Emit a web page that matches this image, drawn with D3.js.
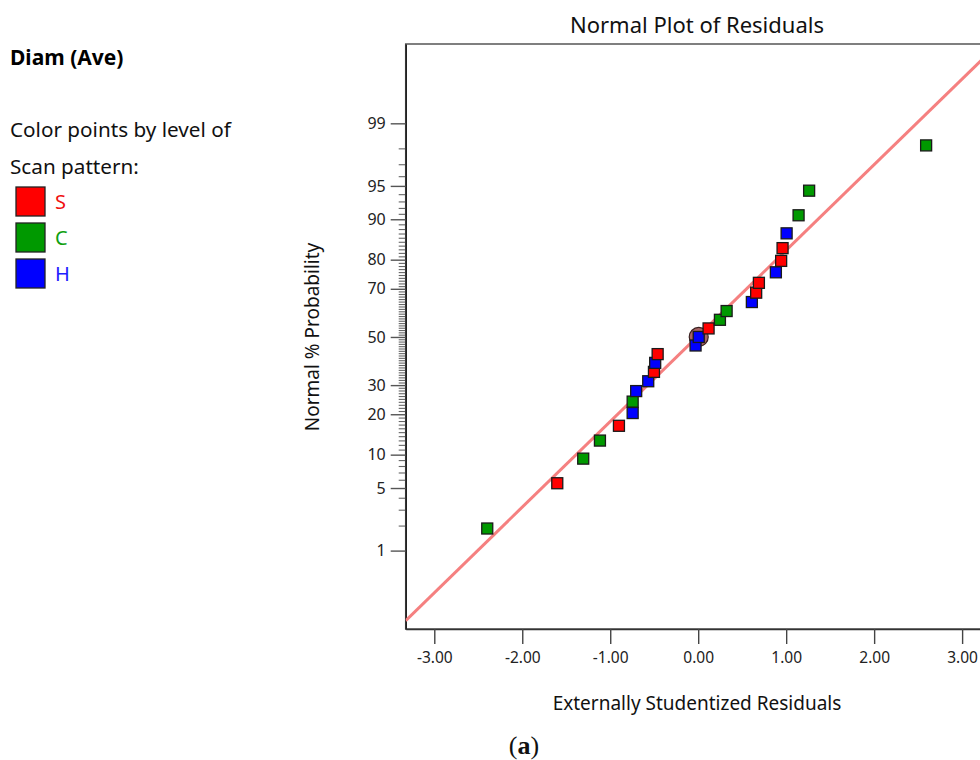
<!DOCTYPE html>
<html>
<head>
<meta charset="utf-8">
<script src="https://cdn.jsdelivr.net/npm/d3@7"></script>
<style>
  html, body { margin: 0; padding: 0; background: #fff; }
  svg { display: block; font-family: "Noto Sans", "Open Sans", sans-serif; }
</style>
</head>
<body>
<svg id="chart" width="980" height="760"></svg>
<script>
// Externally studentized residuals, sorted ascending
const residuals = [
  -2.398, -1.602, -1.307, -1.117, -0.901, -0.745, -0.745, -0.705, -0.568,
  -0.503, -0.489, -0.461, -0.030, 0.006, 0.118, 0.247, 0.323, 0.610,
  0.659, 0.690, 0.883, 0.943, 0.959, 1.005, 1.141, 1.261, 2.591
];
// Normal % probability of each residual
const probabilities = [
  1.85, 5.56, 9.26, 12.96, 16.67, 20.37, 24.07, 27.78, 31.48,
  35.19, 38.89, 42.59, 46.30, 50.00, 53.70, 57.41, 61.11, 64.81,
  68.52, 72.22, 75.93, 79.63, 83.33, 87.04, 90.74, 94.44, 98.15
];
// Scan pattern level of each run
const patterns = [
  "C", "S", "C", "C", "S", "H", "C", "H", "H",
  "S", "H", "S", "H", "H", "S", "C", "C", "H",
  "S", "S", "H", "S", "S", "H", "C", "C", "C"
];
// Highlighted run
const highlightIndex = [13];

const levels = ["S", "C", "H"];
const levelColors = ["#ff0000", "#009900", "#0000ff"];
const levelTextColors = ["#f01010", "#10a010", "#2020ff"];

const xTicks = [-3, -2, -1, 0, 1, 2, 3];
const yMajorTicks = [1, 5, 10, 20, 30, 50, 70, 80, 90, 95, 99];
const yMinorTicks = d3.range(1, 100).filter(p => !yMajorTicks.includes(p));

// Reference normal line: z = (residual - mean) / sd
const lineMean = [-0.013];
const lineSd = [1.0725];

// Inverse standard normal CDF (Acklam's rational approximation)
function probit(p) {
  const a = [-3.969683028665376e+01, 2.209460984245205e+02, -2.759285104469687e+02,
             1.383577518672690e+02, -3.066479806614716e+01, 2.506628277459239e+00];
  const b = [-5.447609879822406e+01, 1.615858368580409e+02, -1.556989798598866e+02,
             6.680131188771972e+01, -1.328068155288572e+01];
  const c = [-7.784894002430293e-03, -3.223964580411365e-01, -2.400758277161838e+00,
             -2.549732539343734e+00, 4.374664141464968e+00, 2.938163982698783e+00];
  const d = [7.784695709041462e-03, 3.224671290700398e-01, 2.445134137142996e+00,
             3.754408661907416e+00];
  const pl = 0.02425, ph = 1 - pl;
  let q, r;
  if (p < pl) {
    q = Math.sqrt(-2 * Math.log(p));
    return (((((c[0]*q+c[1])*q+c[2])*q+c[3])*q+c[4])*q+c[5]) /
           ((((d[0]*q+d[1])*q+d[2])*q+d[3])*q+1);
  } else if (p <= ph) {
    q = p - 0.5; r = q * q;
    return (((((a[0]*r+a[1])*r+a[2])*r+a[3])*r+a[4])*r+a[5])*q /
           (((((b[0]*r+b[1])*r+b[2])*r+b[3])*r+b[4])*r+1);
  } else {
    q = Math.sqrt(-2 * Math.log(1 - p));
    return -(((((c[0]*q+c[1])*q+c[2])*q+c[3])*q+c[4])*q+c[5]) /
            ((((d[0]*q+d[1])*q+d[2])*q+d[3])*q+1);
  }
}

const svg = d3.select("#chart");
const plot = { left: 405.7, top: 44, size: 585 };

const x = d3.scaleLinear().domain([-3.325, 3.325]).range([plot.left, plot.left + plot.size]);
const y = d3.scaleLinear().domain([-3.18, 3.19]).range([plot.top + plot.size, plot.top]);
const colorOf = d3.scaleOrdinal().domain(levels).range(levelColors);

// Plot frame
svg.append("rect")
  .attr("x", plot.left).attr("y", plot.top)
  .attr("width", plot.size).attr("height", plot.size)
  .attr("fill", "none").attr("stroke", "#555").attr("stroke-width", 1.5);

// Y axis: probability scale (minor then major ticks)
const yMinor = svg.append("g").attr("transform", `translate(${plot.left},0)`)
  .call(d3.axisLeft(y)
    .tickValues(yMinorTicks.map(p => probit(p / 100)))
    .tickSize(7).tickSizeOuter(0).tickFormat(""));
yMinor.select(".domain").remove();
yMinor.selectAll("line").attr("stroke", "#666").attr("stroke-width", 1.1);

const yMajor = svg.append("g").attr("transform", `translate(${plot.left},0)`)
  .call(d3.axisLeft(y)
    .tickValues(yMajorTicks.map(p => probit(p / 100)))
    .tickSize(15).tickSizeOuter(0).tickPadding(5)
    .tickFormat((v, i) => yMajorTicks[i]));
yMajor.select(".domain").attr("stroke", "#222").attr("stroke-width", 1.6);
yMajor.selectAll("line").attr("stroke", "#555").attr("stroke-width", 1.4);
yMajor.attr("font-size", 16).attr("font-family", "Noto Sans, sans-serif");
yMajor.selectAll("text").attr("fill", "#222");

// X axis
const fmt = d3.format(".2f");
const xAxis = svg.append("g").attr("transform", `translate(0,${plot.top + plot.size})`)
  .call(d3.axisBottom(x).tickValues(xTicks).tickSize(15).tickSizeOuter(0).tickPadding(8)
    .tickFormat(v => fmt(v).replace("\u2212", "-")));
xAxis.select(".domain").attr("stroke", "#333").attr("stroke-width", 1.6);
xAxis.selectAll("line").attr("stroke", "#444").attr("stroke-width", 1.4);
xAxis.attr("font-size", 15.5).attr("font-family", "Noto Sans, sans-serif");
xAxis.selectAll("text").attr("fill", "#222");

// Reference line
svg.append("clipPath").attr("id", "plot-clip")
  .append("rect").attr("x", plot.left).attr("y", plot.top)
  .attr("width", plot.size).attr("height", plot.size);

const lineXs = x.domain();
svg.append("path")
  .attr("clip-path", "url(#plot-clip)")
  .datum(lineXs)
  .attr("d", d3.line().x(v => x(v)).y(v => y((v - lineMean[0]) / lineSd[0])))
  .attr("fill", "none").attr("stroke", "#f58080").attr("stroke-width", 3);

// Points
const points = residuals.map((r, i) => ({ r, p: probabilities[i], level: patterns[i] }));

highlightIndex.forEach(i => {
  const d = points[i];
  svg.append("circle")
    .attr("cx", x(d.r)).attr("cy", y(probit(d.p / 100)))
    .attr("r", 9.5)
    .attr("fill", "#a86464").attr("stroke", "#3a2020").attr("stroke-width", 1.2);
});

const sq = 11;
svg.append("g").selectAll("rect").data(points).join("rect")
  .attr("x", d => x(d.r) - sq / 2)
  .attr("y", d => y(probit(d.p / 100)) - sq / 2)
  .attr("width", sq).attr("height", sq)
  .attr("fill", d => colorOf(d.level))
  .attr("stroke", "#1a1a1a").attr("stroke-width", 1.3);

// Titles
svg.append("text").attr("x", 697).attr("y", 33).attr("text-anchor", "middle")
  .attr("font-size", 22).attr("fill", "#111").text("Normal Plot of Residuals");
svg.append("text").attr("x", 697).attr("y", 710).attr("text-anchor", "middle")
  .attr("font-size", 19).attr("fill", "#111").text("Externally Studentized Residuals");
svg.append("text").attr("transform", "translate(319,337) rotate(-90)")
  .attr("text-anchor", "middle").attr("font-size", 19).attr("fill", "#111")
  .text("Normal % Probability");

// Panel label
const panel = svg.append("text").attr("x", 524).attr("y", 754).attr("text-anchor", "middle")
  .attr("font-family", "Liberation Serif, serif").attr("font-size", 26).attr("fill", "#111");
panel.append("tspan").text("(");
panel.append("tspan").attr("font-weight", "bold").text("a");
panel.append("tspan").text(")");

// Legend
svg.append("text").attr("x", 10).attr("y", 65).attr("font-size", 21)
  .attr("font-weight", "bold").attr("fill", "#000").text("Diam (Ave)");
svg.append("text").attr("x", 10).attr("y", 137).attr("font-size", 20.7)
  .attr("fill", "#111").text("Color points by level of");
svg.append("text").attr("x", 10).attr("y", 174).attr("font-size", 20.7)
  .attr("fill", "#111").text("Scan pattern:");

const legend = svg.append("g").selectAll("g").data(levels).join("g")
  .attr("transform", (d, i) => `translate(16,${187 + i * 36})`);
legend.append("rect").attr("width", 29).attr("height", 29)
  .attr("fill", d => colorOf(d)).attr("stroke", "#222").attr("stroke-width", 1.3);
legend.append("text").attr("x", 39).attr("y", 22).attr("font-size", 20)
  .attr("fill", (d, i) => levelTextColors[i]).text(d => d);
</script>
</body>
</html>
